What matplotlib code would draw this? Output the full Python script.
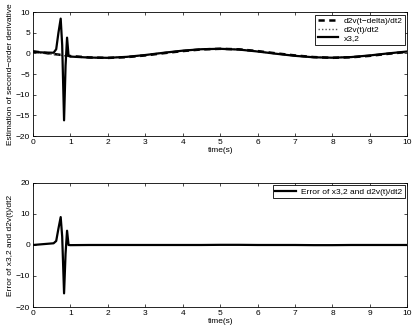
import matplotlib
matplotlib.use("Agg")
import matplotlib.pyplot as plt

plt.rcParams['font.family'] = ['Liberation Sans', 'DejaVu Sans']

# smooth reference signal d2v(t)/dt2
t_ref = [0.0, 0.5, 1.0, 1.5, 2.0, 2.5, 3.0, 3.5, 4.0, 4.5, 5.0, 5.5, 6.0,
         6.5, 7.0, 7.5, 8.0, 8.5, 9.0, 9.5, 10.0]
d2v = [0.34, -0.23, -0.74, -1.02, -1.08, -0.85, -0.40, 0.15, 0.65, 1.00,
       1.10, 0.92, 0.45, -0.10, -0.60, -0.95, -1.05, -0.90, -0.50, 0.00, 0.45]
# delayed version d2v(t-delta)/dt2
d2v_delay = [0.50, -0.10, -0.65, -0.98, -1.10, -0.92, -0.50, 0.05, 0.55,
             0.95, 1.10, 0.98, 0.55, 0.00, -0.50, -0.90, -1.08, -0.95, -0.60,
             -0.10, 0.35]

# estimator x3,2
t_x32 = [0.0, 0.3, 0.55, 0.62, 0.68, 0.74, 0.78, 0.83, 0.87, 0.91, 0.95,
         1.0, 1.5, 2.0, 2.5, 3.0, 3.5, 4.0, 4.5, 5.0, 5.5, 6.0, 6.5, 7.0,
         7.5, 8.0, 8.5, 9.0, 9.5, 10.0]
x32 = [0.34, 0.20, 0.15, 1.0, 5.0, 8.4, 2.0, -16.2, -3.0, 3.8, -0.6,
       -0.78, -1.02, -1.08, -0.85, -0.40, 0.15, 0.65, 1.00, 1.10, 0.92, 0.45,
       -0.10, -0.60, -0.95, -1.05, -0.90, -0.50, 0.00, 0.45]

# error between x3,2 and d2v(t)/dt2
err = [0.0, 0.3, 0.55, 1.3, 5.3, 9.0, 2.7, -15.6, -2.8, 4.6, 0.0,
       -0.05, 0.0, 0.0, 0.0, 0.0, 0.0, 0.0, 0.0, 0.05, 0.05, 0.0,
       0.0, 0.0, -0.05, -0.05, 0.0, 0.0, 0.0, 0.0]

xticks = list(range(0, 11))
yticks_top = [-20, -15, -10, -5, 0, 5, 10]
yticks_bot = [-20, -10, 0, 10, 20]

fig = plt.figure(figsize=(4.15, 3.31), dpi=100)
ax1 = fig.add_axes([0.0795, 0.589, 0.902, 0.3747])
ax2 = fig.add_axes([0.0795, 0.0725, 0.902, 0.3747])

fs = 6
ax1.plot(t_ref, d2v_delay, color='black', linestyle=(0, (2.5, 1.8)), lw=1.8,
         label='d2v(t\u2212delta)/dt2')
ax1.plot(t_ref, d2v, color='#555555', linestyle=(0, (1, 1.5)), lw=1.0,
         label='d2v(t)/dt2')
ax1.plot(t_x32, x32, color='black', lw=1.6, label='x3,2')
ax1.set_xlim(0, 10)
ax1.set_ylim(-20, 10)
ax1.set_yticks(yticks_top)
ax1.set_xticks(xticks)
ax1.set_xlabel('time(s)', fontsize=fs, labelpad=1)
ax1.set_ylabel('Estimation of second\u2212order derivative', fontsize=fs, labelpad=1)
leg1 = ax1.legend(loc='upper right', fontsize=fs, frameon=True, fancybox=False,
                  edgecolor='black', framealpha=1, borderpad=0.3,
                  labelspacing=0.1, handlelength=2.5, handletextpad=0.6,
                  borderaxespad=0.3)
leg1.get_frame().set_linewidth(0.6)

ax2.plot(t_x32, err, color='black', lw=1.6, label='Error of x3,2 and d2v(t)/dt2')
ax2.set_xlim(0, 10)
ax2.set_ylim(-20, 20)
ax2.set_yticks(yticks_bot)
ax2.set_xticks(xticks)
ax2.set_xlabel('time(s)', fontsize=fs, labelpad=1)
ax2.set_ylabel('Error of x3,2 and d2v(t)/dt2', fontsize=fs, labelpad=1)
leg2 = ax2.legend(loc='upper right', fontsize=fs, frameon=True, fancybox=False,
                  edgecolor='black', framealpha=1, borderpad=0.3,
                  handlelength=2.5, handletextpad=0.6, borderaxespad=0.3)
leg2.get_frame().set_linewidth(0.6)

for ax in (ax1, ax2):
    ax.tick_params(direction='in', top=True, right=True, labelsize=fs,
                   length=2.5, width=0.5, pad=2)
    for s in ax.spines.values():
        s.set_linewidth(0.6)

fig.savefig('out.png', dpi=100)
